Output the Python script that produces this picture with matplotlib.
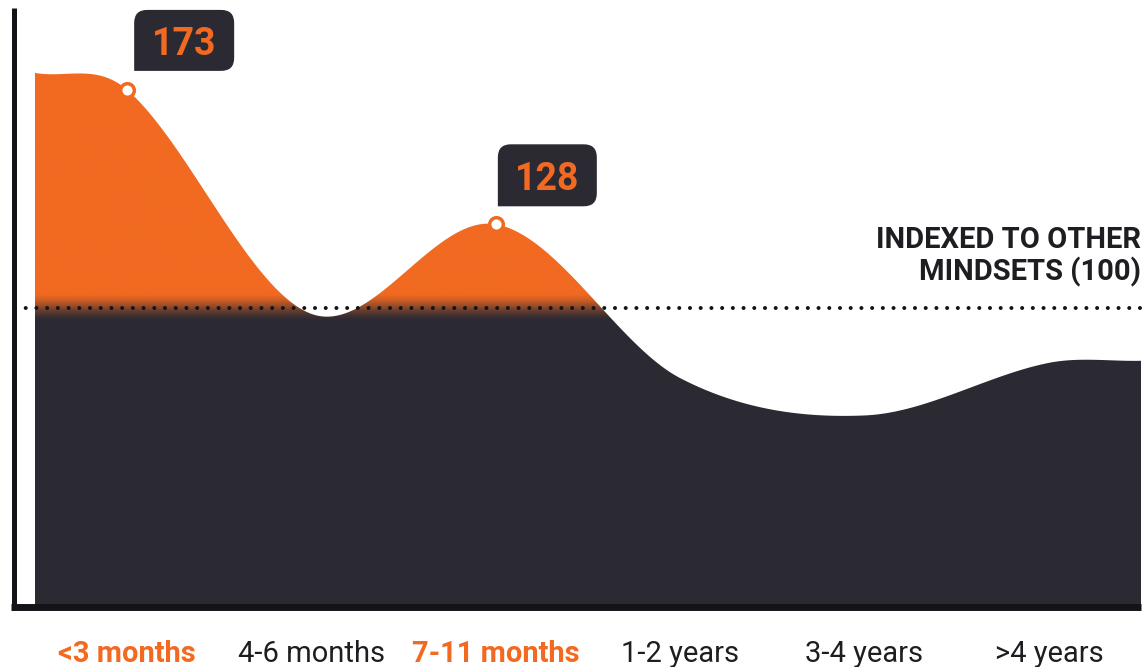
import numpy as np
import matplotlib
matplotlib.use("Agg")
import matplotlib.pyplot as plt
from matplotlib.path import Path
from matplotlib.patches import PathPatch
from matplotlib.lines import Line2D
import matplotlib.transforms as mtransforms

# ---------------- data ----------------
categories = ["<3 months", "4-6 months", "7-11 months", "1-2 years", "3-4 years", ">4 years"]
values = [173, 98, 128, 76.5, 64, 81.6]
curve_start = 178.7   # curve height at left edge of the plot
curve_end = 82.3      # curve height at right edge of the plot
baseline = 100
baseline_label = ["INDEXED TO OTHER", "MINDSETS (100)"]

# ---------------- style ----------------
ORANGE = "#F26A21"
DARK = "#2B2A33"
BLACK = "#141418"
TEXT = "#1E1E22"

plt.rcParams['font.family'] = ['Roboto', 'DejaVu Sans']

W, H = 1143, 667
fig = plt.figure(figsize=(W / 100, H / 100), dpi=100)
ax_left, ax_right, ax_bottom_px = 35, 1141, 606.6
ax = fig.add_axes([ax_left / W, (H - ax_bottom_px) / H, (ax_right - ax_left) / W, ax_bottom_px / H])
ymax = 203.1
ax.set_xlim(-0.5, len(categories) - 0.5)
ax.set_ylim(0, ymax)
for s in ax.spines.values():
    s.set_visible(False)


def hermite_cr(x, y, xs):
    """Catmull-Rom style cubic Hermite interpolation."""
    x = np.asarray(x, float); y = np.asarray(y, float)
    n = len(x)
    m = np.zeros(n)
    m[1:-1] = (y[2:] - y[:-2]) / (x[2:] - x[:-2])
    m[0] = (y[1] - y[0]) / (x[1] - x[0]); m[-1] = (y[-1] - y[-2]) / (x[-1] - x[-2])
    idx = np.clip(np.searchsorted(x, xs) - 1, 0, n - 2)
    h = x[idx + 1] - x[idx]; s = (xs - x[idx]) / h
    return ((2 * s**3 - 3 * s**2 + 1) * y[idx] + (s**3 - 2 * s**2 + s) * h * m[idx]
            + (-2 * s**3 + 3 * s**2) * y[idx + 1] + (s**3 - s**2) * h * m[idx + 1])


xi = np.arange(len(categories))
kx = np.concatenate([[-0.5], xi, [len(categories) - 0.5]])
ky = np.concatenate([[curve_start], values, [curve_end]])
xs = np.linspace(-0.5, len(categories) - 0.5, 1200)
ys = hermite_cr(kx, ky, xs)

# gradient image clipped to the area under the curve
vv = np.linspace(0, ymax, 800)
t = np.clip((vv - 95.5) / (105.5 - 95.5), 0, 1)
t = t * t * (3 - 2 * t)
c_or = np.array(matplotlib.colors.to_rgb(ORANGE))
c_dk = np.array(matplotlib.colors.to_rgb(DARK))
img = c_dk[None, :] + (c_or - c_dk)[None, :] * t[:, None]
img = img[:, None, :]
im = ax.imshow(img, extent=[-0.5, len(categories) - 0.5, 0, ymax], origin='lower',
               aspect='auto', interpolation='bilinear', zorder=1)
verts = np.vstack([np.column_stack([xs, ys]), [[xs[-1], 0], [xs[0], 0], [xs[0], ys[0]]]])
clip = PathPatch(Path(verts, closed=True), facecolor='none', edgecolor='none', transform=ax.transData)
ax.add_patch(clip)
im.set_clip_path(clip)

# dotted baseline
ax.plot([-0.018, 1.0], [baseline, baseline], transform=ax.get_yaxis_transform(), clip_on=False,
        color=BLACK, lw=2.9, linestyle=(0, (0.01, 2.65)), dash_capstyle='round', zorder=3)

# frame lines (left bar and bottom bar)
fig.add_artist(Line2D([13.5 / W, 13.5 / W], [(H - 8) / H, (H - 610) / H], transform=fig.transFigure,
                      color=BLACK, lw=3.6, solid_capstyle='butt'))
fig.add_artist(Line2D([11 / W, 1141 / W], [(H - 606.5) / H] * 2, transform=fig.transFigure,
                      color=BLACK, lw=5, solid_capstyle='butt'))

# baseline label
ax.text(1.0, (ax_bottom_px - 248) / 2.986, baseline_label[0], transform=ax.get_yaxis_transform(),
        ha='right', va='baseline', fontsize=21, fontweight='bold', color=TEXT, zorder=5)
ax.text(1.0, (ax_bottom_px - 280) / 2.986, baseline_label[1], transform=ax.get_yaxis_transform(),
        ha='right', va='baseline', fontsize=21, fontweight='bold', color=TEXT, zorder=5)

# markers + callouts for values above baseline
offsets = {0: (7, 107, 19, 80), 2: (2, 101, 18, 80)}
r = 13
for i, v in enumerate(values):
    if v <= baseline:
        continue
    ax.plot([i], [v], marker='o', ms=9.8, mfc='white', mec=ORANGE, mew=2.5, zorder=6, clip_on=False)
    L, R, B, T = offsets.get(i, (5, 105, 18, 80))
    P = [(L, B), (R - r, B), (R, B), (R, B + r), (R, T - r), (R, T), (R - r, T),
         (L + r, T), (L, T), (L, T - r), (L, B), (L, B)]
    codes = [Path.MOVETO, Path.LINETO, Path.CURVE3, Path.CURVE3, Path.LINETO, Path.CURVE3, Path.CURVE3,
             Path.LINETO, Path.CURVE3, Path.CURVE3, Path.LINETO, Path.CLOSEPOLY]
    P = [(px / 100, py / 100) for px, py in P]
    tr = fig.dpi_scale_trans + mtransforms.ScaledTranslation(i, v, ax.transData)
    ax.add_patch(PathPatch(Path(P, codes), facecolor=DARK, edgecolor='none', transform=tr,
                           zorder=7, clip_on=False))
    ax.text((L + R) / 200, (B + T) / 200, f"{v:g}", transform=tr, ha='center', va='center_baseline',
            fontsize=27, fontweight='bold', color=ORANGE, zorder=8)

# x tick labels
ax.set_yticks([])
ax.set_xticks(xi)
ax.set_xticklabels(categories, fontsize=21)
ax.tick_params(axis='x', length=0, pad=24)
for i, lab in enumerate(ax.get_xticklabels()):
    if values[i] > baseline:
        lab.set_color(ORANGE)
        lab.set_fontweight('bold')
    else:
        lab.set_color(TEXT)

fig.savefig("out.png", dpi=100)
